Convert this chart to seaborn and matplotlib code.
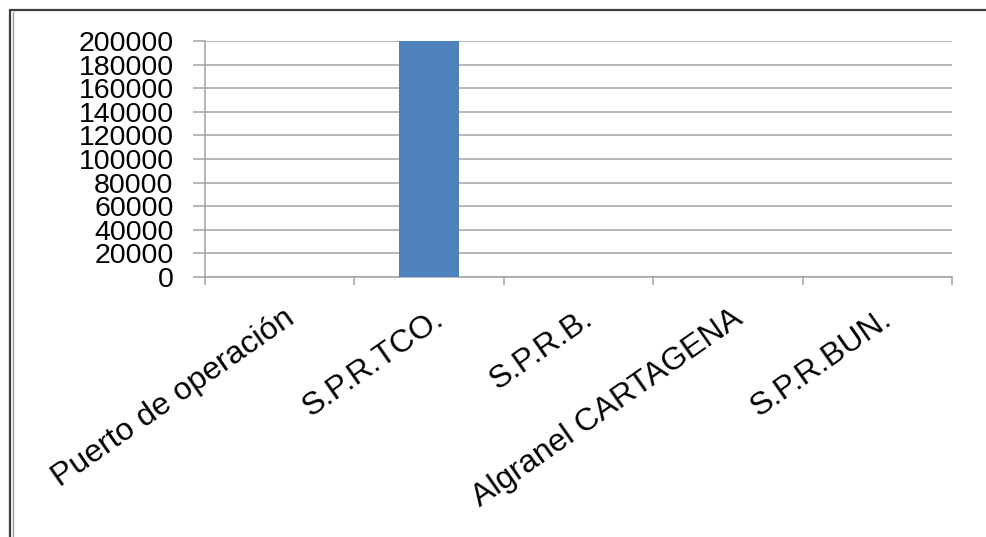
import matplotlib
matplotlib.use("Agg")
import matplotlib.pyplot as plt
import matplotlib.transforms as mtransforms
from matplotlib.lines import Line2D
import seaborn as sns
import pandas as pd

# Data
puertos = ["Puerto de operación", "S.P.R.TCO.", "S.P.R.B.", "Algranel CARTAGENA", "S.P.R.BUN."]
toneladas = [0, 200000, 0, 0, 0]
y_ticks = list(range(0, 200001, 20000))

df = pd.DataFrame({"puerto": puertos, "toneladas": toneladas})

sns.set_style("white")
plt.rcParams["font.family"] = ["Liberation Sans", "DejaVu Sans"]

GRID = "#A3A3A3"
BAR = "#4F81BD"

fig = plt.figure(figsize=(9.86, 5.37), dpi=100)
ax = fig.add_axes([205 / 986, 1 - 277 / 537, (952 - 205) / 986, (277 - 41) / 537])

sns.barplot(data=df, x="puerto", y="toneladas", order=puertos, color=BAR,
            width=0.4, saturation=1, ax=ax, zorder=3, linewidth=0)

ax.set_xlim(-0.5, len(puertos) - 0.5)
ax.set_ylim(0, 200000)
ax.set_yticks(y_ticks)
ax.set_yticklabels([str(v) for v in y_ticks])
ax.set_xlabel("")
ax.set_ylabel("")

# horizontal gridlines
ax.yaxis.grid(True, color=GRID, linewidth=1.1, zorder=0)
ax.xaxis.grid(False)
ax.set_axisbelow(True)

for side in ("top", "right"):
    ax.spines[side].set_visible(False)
for side in ("left", "bottom"):
    ax.spines[side].set_color(GRID)
    ax.spines[side].set_linewidth(1.1)

ax.tick_params(axis="y", which="major", direction="out", length=8.6, width=1.1,
               color=GRID, pad=14, labelsize=20.5, labelcolor="black", left=True)

# category separators on the x axis
ax.set_xticks([i - 0.5 for i in range(len(puertos) + 1)], minor=True)
ax.tick_params(axis="x", which="minor", direction="out", length=5.8, width=1.1,
               color=GRID, bottom=True)
ax.tick_params(axis="x", which="major", length=0, pad=19, labelsize=23,
               labelcolor="black")
ax.set_xticks(range(len(puertos)))
ax.set_xticklabels(puertos, rotation=35, ha="right", va="top",
                   rotation_mode="anchor")
shift = mtransforms.ScaledTranslation(3 / 100, 0, fig.dpi_scale_trans)
for lbl in ax.get_xticklabels():
    lbl.set_transform(lbl.get_transform() + shift)

# frame lines around the chart area
fig.add_artist(Line2D([9.5 / 986, 1], [1 - 9.5 / 537] * 2, transform=fig.transFigure,
                      color="#3C3C3C", linewidth=1.6))
fig.add_artist(Line2D([9.5 / 986] * 2, [0, 1 - 9.5 / 537], transform=fig.transFigure,
                      color="#3C3C3C", linewidth=1.6))
fig.add_artist(Line2D([13 / 986] * 2, [0, 1 - 12 / 537], transform=fig.transFigure,
                      color="#9A9A9A", linewidth=1.0))

fig.savefig("out.png", dpi=100, facecolor="white")
